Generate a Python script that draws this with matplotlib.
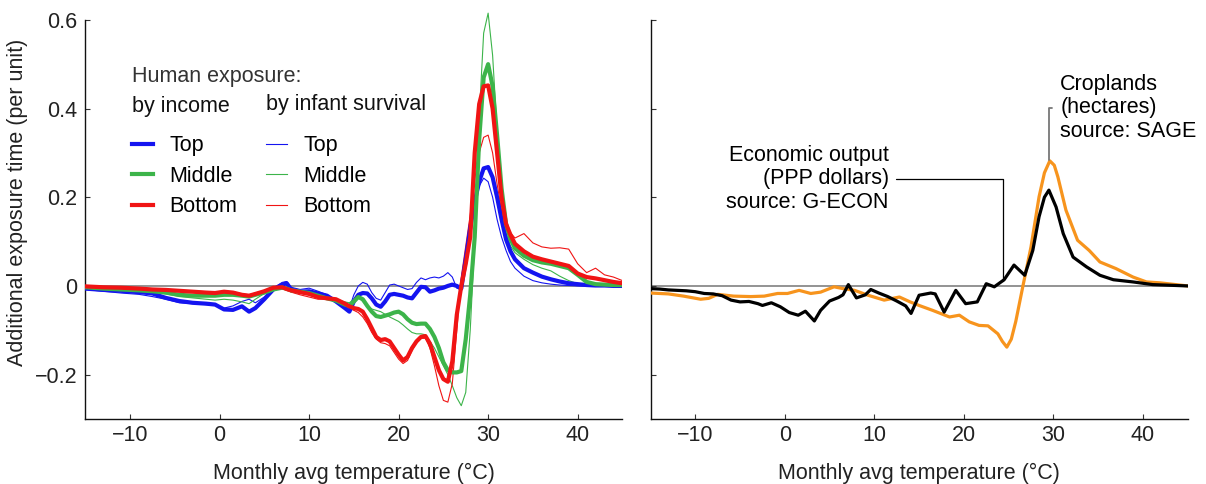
import numpy as np
import matplotlib
matplotlib.use("Agg")
import matplotlib.pyplot as plt

plt.rcParams["font.family"] = ["Liberation Sans", "DejaVu Sans"]

# ---- left panel: human exposure ----
temps = [-15, -13, -11, -9, -7.5, -6, -4.5, -3, -1.5, -0.5,
         0.5, 1.5, 2.5, 3.3, 4, 5, 6, 7, 7.5, 8,
         9, 10, 11, 12, 13, 14, 14.5, 15, 15.5, 16,
         16.5, 17, 17.5, 18, 18.5, 19, 19.5, 20, 20.5, 21,
         21.5, 22, 22.5, 23, 23.5, 24, 24.5, 25, 25.5, 26,
         26.5, 27, 27.5, 28, 28.5, 29, 29.5, 30, 30.5, 31,
         31.5, 32, 32.5, 33, 34, 35, 36, 37, 38, 39,
         40, 41, 42, 43, 44, 45]

income_top = [-0.006, -0.009, -0.011, -0.014, -0.017, -0.027, -0.034, -0.038, -0.040, -0.042,
              -0.053, -0.054, -0.046, -0.058, -0.050, -0.030, -0.008, 0.003, 0.006, -0.008,
              -0.013, -0.012, -0.017, -0.022, -0.035, -0.050, -0.058, -0.035, -0.020, -0.016,
              -0.017, -0.028, -0.042, -0.047, -0.035, -0.020, -0.018, -0.020, -0.022, -0.026,
              -0.028, -0.015, -0.002, -0.003, -0.013, -0.010, -0.006, -0.004, 0.000, 0.003,
              0.000, -0.006, 0.060, 0.130, 0.190, 0.235, 0.265, 0.268, 0.245, 0.200,
              0.150, 0.105, 0.078, 0.060, 0.040, 0.030, 0.021, 0.015, 0.010, 0.006,
              0.004, 0.002, 0.001, 0.001, 0.000, 0.000]
income_mid = [-0.003, -0.006, -0.008, -0.010, -0.012, -0.015, -0.020, -0.022, -0.022, -0.022,
              -0.020, -0.020, -0.022, -0.024, -0.020, -0.015, -0.008, -0.004, -0.006, -0.010,
              -0.013, -0.016, -0.022, -0.028, -0.033, -0.042, -0.045, -0.035, -0.025, -0.030,
              -0.045, -0.058, -0.068, -0.070, -0.067, -0.064, -0.060, -0.058, -0.064, -0.075,
              -0.083, -0.086, -0.085, -0.085, -0.097, -0.115, -0.140, -0.172, -0.190, -0.195,
              -0.195, -0.192, -0.120, -0.020, 0.110, 0.330, 0.470, 0.500, 0.450, 0.340,
              0.220, 0.140, 0.105, 0.085, 0.068, 0.058, 0.053, 0.050, 0.045, 0.040,
              0.025, 0.009, 0.004, 0.003, 0.002, 0.002]
income_bot = [-0.001, -0.003, -0.004, -0.006, -0.008, -0.009, -0.011, -0.013, -0.015, -0.016,
              -0.013, -0.015, -0.020, -0.022, -0.018, -0.012, -0.004, -0.003, -0.007, -0.010,
              -0.014, -0.018, -0.025, -0.028, -0.030, -0.040, -0.046, -0.050, -0.052, -0.058,
              -0.075, -0.095, -0.115, -0.122, -0.120, -0.125, -0.140, -0.155, -0.168, -0.160,
              -0.140, -0.125, -0.115, -0.113, -0.130, -0.160, -0.190, -0.210, -0.216, -0.170,
              -0.065, 0.000, 0.050, 0.110, 0.300, 0.410, 0.450, 0.452, 0.400, 0.300,
              0.200, 0.140, 0.115, 0.095, 0.078, 0.066, 0.060, 0.055, 0.050, 0.045,
              0.028, 0.020, 0.017, 0.013, 0.009, 0.006]

infant_top = [-0.008, -0.012, -0.016, -0.019, -0.024, -0.030, -0.038, -0.040, -0.042, -0.044,
              -0.050, -0.045, -0.035, -0.030, -0.038, -0.025, -0.005, 0.008, 0.010, -0.003,
              -0.008, -0.005, -0.012, -0.020, -0.032, -0.045, -0.050, -0.020, 0.000, 0.008,
              0.004, -0.015, -0.028, -0.032, -0.015, 0.002, 0.004, 0.000, -0.004, -0.008,
              -0.006, 0.008, 0.018, 0.014, 0.018, 0.020, 0.018, 0.022, 0.030, 0.020,
              -0.005, -0.008, 0.050, 0.120, 0.180, 0.225, 0.243, 0.235, 0.200, 0.150,
              0.110, 0.080, 0.055, 0.040, 0.022, 0.012, 0.007, 0.004, 0.002, 0.001,
              0.000, 0.000, 0.000, 0.000, 0.000, 0.000]
infant_mid = [-0.004, -0.007, -0.010, -0.012, -0.014, -0.018, -0.024, -0.027, -0.030, -0.032,
              -0.030, -0.032, -0.036, -0.040, -0.030, -0.017, -0.006, -0.002, -0.004, -0.010,
              -0.014, -0.018, -0.022, -0.026, -0.030, -0.036, -0.038, -0.030, -0.025, -0.035,
              -0.045, -0.052, -0.055, -0.058, -0.064, -0.070, -0.075, -0.080, -0.088, -0.097,
              -0.105, -0.108, -0.108, -0.110, -0.125, -0.140, -0.160, -0.180, -0.200, -0.225,
              -0.252, -0.270, -0.240, -0.100, 0.100, 0.380, 0.570, 0.615, 0.520, 0.350,
              0.200, 0.120, 0.090, 0.075, 0.060, 0.048, 0.040, 0.034, 0.022, 0.012,
              0.005, 0.002, 0.001, 0.001, 0.001, 0.001]
infant_bot = [0.000, -0.002, -0.003, -0.005, -0.006, -0.008, -0.010, -0.011, -0.013, -0.014,
              -0.012, -0.013, -0.018, -0.020, -0.016, -0.010, -0.004, -0.006, -0.010, -0.014,
              -0.020, -0.025, -0.030, -0.030, -0.035, -0.045, -0.050, -0.055, -0.060, -0.070,
              -0.085, -0.105, -0.120, -0.128, -0.130, -0.135, -0.150, -0.165, -0.175, -0.168,
              -0.145, -0.128, -0.118, -0.118, -0.140, -0.180, -0.225, -0.258, -0.262, -0.220,
              -0.100, 0.020, 0.090, 0.160, 0.240, 0.300, 0.335, 0.340, 0.300, 0.230,
              0.170, 0.135, 0.120, 0.108, 0.118, 0.097, 0.088, 0.085, 0.086, 0.083,
              0.050, 0.030, 0.040, 0.025, 0.020, 0.012]

# ---- right panel: economic output and croplands ----
econ_temps = [-15, -14, -13, -12, -11, -10, -9, -8, -7, -6,
              -5, -4, -3, -2.5, -1.5, -0.5, 0.5, 1.5, 2.3, 3.3,
              4, 5, 6, 6.5, 7.1, 8, 9, 9.6, 10.5, 11.5,
              12.5, 13.5, 14.1, 15, 16.3, 16.8, 17.8, 19.1, 20.2, 21.5,
              22.5, 23.4, 24.5, 25.6, 26.8, 27.7, 28.4, 29, 29.5, 30.3,
              31.1, 32.2, 33.7, 35.2, 36.7, 38.9, 41.1, 45]
econ_output = [-0.006, -0.007, -0.009, -0.010, -0.011, -0.013, -0.017, -0.018, -0.022, -0.032,
               -0.036, -0.035, -0.040, -0.044, -0.038, -0.047, -0.060, -0.066, -0.057, -0.079,
               -0.055, -0.034, -0.026, -0.020, 0.003, -0.027, -0.020, -0.008, -0.016, -0.024,
               -0.034, -0.045, -0.062, -0.021, -0.016, -0.018, -0.059, -0.010, -0.040, -0.036,
               0.005, -0.002, 0.014, 0.047, 0.024, 0.080, 0.156, 0.200, 0.216, 0.178,
               0.118, 0.065, 0.043, 0.024, 0.014, 0.009, 0.003, 0.000]

crop_temps = [-15, -13, -11.3, -9.4, -8.5, -7.5, -5.7, -3.8, -2.3, -0.8,
              0.3, 1.6, 2.9, 4, 5.5, 6.5, 7.8, 9.3, 11.1, 12.8,
              14, 15, 16.5, 18.4, 19.5, 20.6, 21.7, 22.7, 23.8, 24.3,
              24.8, 25.3, 25.8, 26.6, 27.5, 28.4, 29, 29.6, 30.1, 30.5,
              31.4, 32.7, 34, 35.2, 37, 38.9, 40.4, 41.9, 45]
croplands = [-0.016, -0.018, -0.023, -0.030, -0.028, -0.019, -0.023, -0.024, -0.023, -0.017,
             -0.017, -0.010, -0.017, -0.014, -0.002, -0.006, -0.010, -0.021, -0.032, -0.025,
             -0.036, -0.044, -0.055, -0.070, -0.066, -0.081, -0.089, -0.090, -0.108, -0.125,
             -0.138, -0.120, -0.080, 0.000, 0.088, 0.201, 0.255, 0.282, 0.272, 0.246,
             0.171, 0.103, 0.080, 0.054, 0.039, 0.020, 0.009, 0.007, 0.000]

xticks = [-10, 0, 10, 20, 30, 40]
yticks = [-0.2, 0, 0.2, 0.4, 0.6]
ytick_labels = ["\u22120.2", "0", "0.2", "0.4", "0.6"]
xtick_labels = ["\u221210", "0", "10", "20", "30", "40"]

BLUE = "#1414f0"
GREEN = "#3cb44a"
RED = "#f01414"
ORANGE = "#f7941d"
FS = 15.5


def style_axes(ax, show_ylabels):
    ax.set_xlim(-15, 45)
    ax.set_ylim(-0.3, 0.63)
    for side in ("top", "right"):
        ax.spines[side].set_visible(False)
    ax.spines["left"].set_bounds(-0.3, 0.6)
    for side in ("left", "bottom"):
        ax.spines[side].set_linewidth(1.0)
        ax.spines[side].set_color("#111")
    ax.set_xticks(xticks)
    ax.set_xticklabels(xtick_labels)
    ax.set_yticks(yticks)
    if show_ylabels:
        ax.set_yticklabels(ytick_labels)
    else:
        ax.set_yticklabels([])
    ax.tick_params(axis="both", direction="in", length=3.6, width=0.8,
                   color="#333", labelsize=FS, labelcolor="#222")
    ax.tick_params(axis="x", pad=4.5)
    ax.tick_params(axis="y", pad=5.5)
    ax.axhline(0, color="#808080", lw=1.2, zorder=1)
    ax.set_xlabel("Monthly avg temperature (\u00b0C)", fontsize=FS, color="#222", labelpad=12)


fig = plt.figure(figsize=(12.06, 4.84), dpi=100)
ax1 = fig.add_axes([0.0707, 0.1343, 0.4454, 0.8523])
ax2 = fig.add_axes([0.5394, 0.1343, 0.4454, 0.8523])

style_axes(ax1, True)
style_axes(ax2, False)

# thin lines (infant survival) first, thick (income) on top
for vals, c in [(infant_top, BLUE), (infant_mid, GREEN), (infant_bot, RED)]:
    ax1.plot(temps, vals, color=c, lw=0.8, zorder=2)
thick = []
for vals, c in [(income_top, BLUE), (income_mid, GREEN), (income_bot, RED)]:
    thick.append(ax1.plot(temps, vals, color=c, lw=3.0, zorder=3)[0])
thin = [ax1.plot([], [], color=c, lw=0.8)[0] for c in (BLUE, GREEN, RED)]

ax1.set_ylabel("Additional exposure time (per unit)", fontsize=FS, color="#222")
ax1.yaxis.set_label_coords(-0.106, 0.524)

groups = ["Top", "Middle", "Bottom"]
leg_kw = dict(loc="upper left", frameon=False, fontsize=FS, borderpad=0,
              borderaxespad=0, handlelength=1.0, handletextpad=0.75,
              labelspacing=0.44)
leg1 = ax1.legend(thick, groups, bbox_to_anchor=(0.0864, 0.688), **leg_kw)
ax1.add_artist(leg1)
ax1.legend(thin, groups, bbox_to_anchor=(0.3358, 0.688), **leg_kw)

ax1.text(0.0864, 0.830, "Human exposure:", transform=ax1.transAxes,
         fontsize=FS, color="#333", ha="left", va="center")
ax1.text(0.0864, 0.757, "by income", transform=ax1.transAxes,
         fontsize=FS, color="#111", ha="left", va="center")
ax1.text(0.3358, 0.762, "by infant survival", transform=ax1.transAxes,
         fontsize=FS, color="#111", ha="left", va="center")

ax2.plot(crop_temps, croplands, color=ORANGE, lw=2.3, zorder=3)
ax2.plot(econ_temps, econ_output, color="black", lw=2.3, zorder=4)

ax2.annotate("Economic output\n(PPP dollars)\nsource: G-ECON",
             xy=(24.4, 0.012), xytext=(11.6, 0.2415),
             ha="right", va="center", fontsize=FS, linespacing=1.15,
             arrowprops=dict(arrowstyle="-", color="black", lw=0.9,
                             shrinkA=3.5, shrinkB=0,
                             connectionstyle="angle,angleA=0,angleB=90,rad=0"))
ax2.annotate("Croplands\n(hectares)\nsource: SAGE",
             xy=(29.5, 0.284), xytext=(30.76, 0.4016),
             ha="left", va="center", fontsize=FS, linespacing=1.15,
             arrowprops=dict(arrowstyle="-", color="#777", lw=1.3,
                             shrinkA=4, shrinkB=0,
                             connectionstyle="angle,angleA=180,angleB=90,rad=0"))

fig.savefig("out.png", dpi=100, facecolor="white")
